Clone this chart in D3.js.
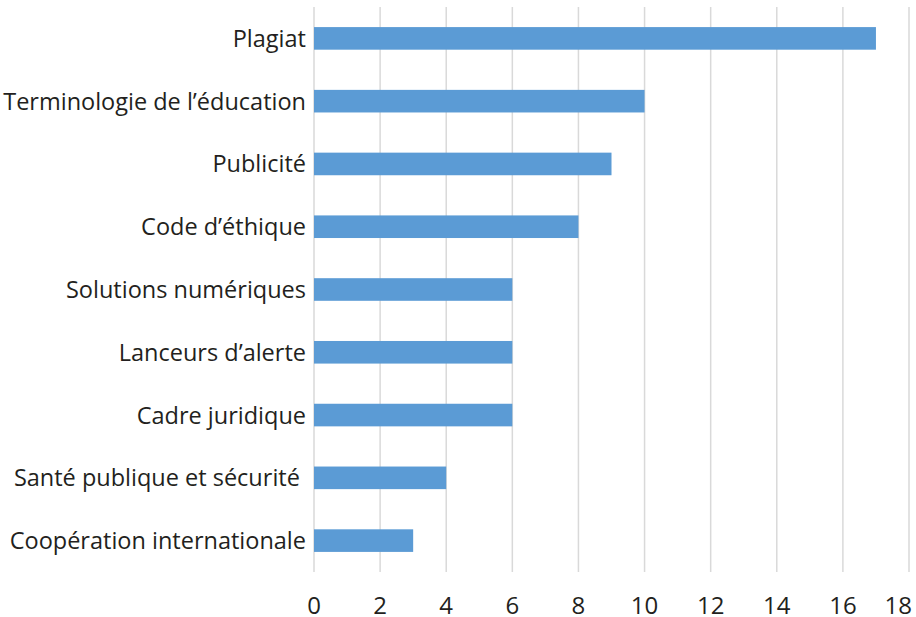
<!DOCTYPE html>
<html>
<head>
<meta charset="utf-8">
<script src="https://cdn.jsdelivr.net/npm/d3@7"></script>
<style>
  body { margin: 0; background: #fff; }
  svg text { font-family: "Open Sans", "Noto Sans", sans-serif; fill: #231f20; }
</style>
</head>
<body>
<svg width="916" height="617"></svg>
<script>
var categories = [
  "Plagiat",
  "Terminologie de l\u2019éducation",
  "Publicité",
  "Code d\u2019éthique",
  "Solutions numériques",
  "Lanceurs d\u2019alerte",
  "Cadre juridique",
  "Santé publique et sécurité\u00a0",
  "Coopération internationale"
];
var values = [17, 10, 9, 8, 6, 6, 6, 4, 3];
var ticks = [0, 2, 4, 6, 8, 10, 12, 14, 16, 18];

var svg = d3.select("svg"),
    margin = {top: 7, right: 7, bottom: 45, left: 314},
    width = +svg.attr("width") - margin.left - margin.right,
    height = +svg.attr("height") - margin.top - margin.bottom;

var x = d3.scaleLinear().domain([0, 18]).range([0, 595]);
var y = d3.scaleBand().domain(categories).range([0, height]).paddingInner(0.64).paddingOuter(0.32);

var g = svg.append("g")
    .attr("transform", "translate(" + margin.left + "," + margin.top + ")");

// gridlines
g.selectAll(".grid")
    .data(ticks)
  .enter().append("line")
    .attr("class", "grid")
    .attr("x1", function(d) { return x(d); })
    .attr("x2", function(d) { return x(d); })
    .attr("y1", 0)
    .attr("y2", height)
    .attr("stroke", "#d9d9d9")
    .attr("stroke-width", 1.5);

g.selectAll(".bar")
    .data(values)
  .enter().append("rect")
    .attr("class", "bar")
    .attr("x", 0)
    .attr("y", function(d, i) { return y(categories[i]); })
    .attr("width", function(d) { return x(d); })
    .attr("height", y.bandwidth())
    .attr("fill", "#5b9bd5");

g.selectAll(".cat")
    .data(categories)
  .enter().append("text")
    .attr("class", "cat")
    .attr("x", -8)
    .attr("y", function(d) { return y(d) + y.bandwidth() / 2; })
    .attr("dy", "0.36em")
    .attr("text-anchor", "end")
    .style("font-size", "23.5px")
    .style("white-space", "pre")
    .text(function(d) { return d; });

// last label is pulled in so it stays inside the frame
var last = ticks[ticks.length - 1];
g.selectAll(".tick-label")
    .data(ticks)
  .enter().append("text")
    .attr("class", "tick-label")
    .attr("x", function(d) { return d === last ? x(d) + 3 : x(d); })
    .attr("y", height + 42)
    .attr("text-anchor", function(d) { return d === last ? "end" : "middle"; })
    .style("font-size", "24px")
    .text(function(d) { return d; });
</script>
</body>
</html>
